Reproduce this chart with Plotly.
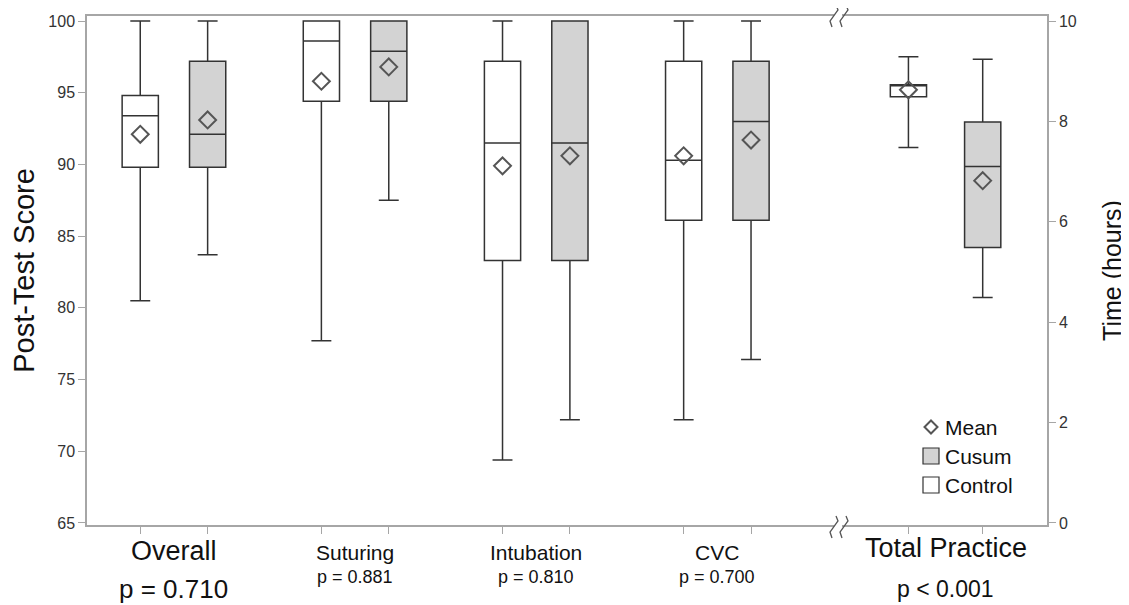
import plotly.graph_objects as go

# ---------------- data ----------------
groups = ["Overall", "Suturing", "Intubation", "CVC"]
group_p = ["p = 0.710", "p = 0.881", "p = 0.810", "p = 0.700"]

ctrl_low = [80.5, 77.7, 69.4, 72.2]
ctrl_q1 = [89.8, 94.4, 83.3, 86.1]
ctrl_med = [93.4, 98.6, 91.5, 90.3]
ctrl_q3 = [94.8, 100.0, 97.2, 97.2]
ctrl_high = [100.0, 100.0, 100.0, 100.0]
ctrl_mean = [92.1, 95.8, 89.9, 90.6]

cusum_low = [83.7, 87.5, 72.2, 76.4]
cusum_q1 = [89.8, 94.4, 83.3, 86.1]
cusum_med = [92.1, 97.9, 91.5, 93.0]
cusum_q3 = [97.2, 100.0, 100.0, 97.2]
cusum_high = [100.0, 100.0, 100.0, 100.0]
cusum_mean = [93.1, 96.8, 90.6, 91.7]

time_group = "Total Practice"
time_p = "p < 0.001"
# [low, q1, median, q3, high, mean]
time_ctrl = [7.48, 8.49, 8.73, 8.73, 9.29, 8.63]
time_cusum = [4.49, 5.49, 7.10, 7.99, 9.24, 6.82]

legend_labels = ["Mean", "Cusum", "Control"]

# ---------------- layout helpers ----------------
PAGE_OFF = 8                             # default body margin of the html page
W, H = 1129, 605
L, R, T, B = 87, 1047, 16, 525          # plot area in page pixels
group_x = [1, 2, 3, 4]
time_x = 5.26
off = 0.186
toff = 0.205
bw = 0.2
XR = [0.52, 5.82]

CUSUM_FILL = "#d3d3d3"
LINE = "#333333"
AX = "#a6a6a6"
MEAN_C = "#555555"
FONT = "Liberation Sans, Arial, sans-serif"

def px(xp):
    return (xp - L) / (R - L)

def py(yp):
    return (B - yp) / (B - T)

fig = go.Figure()

box_common = dict(boxpoints=False, width=bw, whiskerwidth=0.55,
                  line=dict(color=LINE, width=1.5), hoverinfo="skip",
                  showlegend=False)

fig.add_trace(go.Box(x=[g - off for g in group_x], q1=ctrl_q1, median=ctrl_med,
                     q3=ctrl_q3, lowerfence=ctrl_low, upperfence=ctrl_high,
                     fillcolor="white", name="Control", **box_common))
fig.add_trace(go.Box(x=[g + off for g in group_x], q1=cusum_q1, median=cusum_med,
                     q3=cusum_q3, lowerfence=cusum_low, upperfence=cusum_high,
                     fillcolor=CUSUM_FILL, name="Cusum", **box_common))
fig.add_trace(go.Box(x=[time_x - toff], q1=[time_ctrl[1]], median=[time_ctrl[2]],
                     q3=[time_ctrl[3]], lowerfence=[time_ctrl[0]],
                     upperfence=[time_ctrl[4]], fillcolor="white",
                     name="Control time", yaxis="y2", **box_common))
fig.add_trace(go.Box(x=[time_x + toff], q1=[time_cusum[1]], median=[time_cusum[2]],
                     q3=[time_cusum[3]], lowerfence=[time_cusum[0]],
                     upperfence=[time_cusum[4]], fillcolor=CUSUM_FILL,
                     name="Cusum time", yaxis="y2", **box_common))

mean_marker = dict(symbol="diamond-open", size=13, color=MEAN_C,
                   line=dict(width=2, color=MEAN_C))
fig.add_trace(go.Scatter(
    x=[g - off for g in group_x] + [g + off for g in group_x],
    y=ctrl_mean + cusum_mean, mode="markers", marker=mean_marker,
    showlegend=False, hoverinfo="skip"))
fig.add_trace(go.Scatter(
    x=[time_x - toff, time_x + toff], y=[time_ctrl[5], time_cusum[5]],
    mode="markers", marker=mean_marker, yaxis="y2",
    showlegend=False, hoverinfo="skip"))

tickvals = [g - off for g in group_x] + [g + off for g in group_x] + \
           [time_x - toff, time_x + toff]

fig.update_layout(
    width=W - PAGE_OFF, height=H - PAGE_OFF,
    margin=dict(l=L - PAGE_OFF, r=W - R, t=T - PAGE_OFF, b=H - B),
    paper_bgcolor="white", plot_bgcolor="white",
    font=dict(family=FONT, color="#222222"),
    xaxis=dict(range=XR, showgrid=False, zeroline=False, showline=True,
               linecolor=AX, linewidth=1.5, mirror=True, automargin=False,
               tickvals=tickvals, ticktext=[""] * len(tickvals),
               ticks="outside", ticklen=7, tickcolor=AX, tickwidth=1),
    yaxis=dict(range=[64.86, 100.35], tickvals=[65, 70, 75, 80, 85, 90, 95, 100],
               showgrid=False, zeroline=False, showline=True, linecolor=AX,
               linewidth=1.5, ticks="outside", ticklen=7, tickcolor=AX,
               automargin=False,
               tickfont=dict(size=16, color="#333333"),
               title=dict(text="Post-Test Score", font=dict(size=29, color="#111111"),
                          standoff=6)),
    yaxis2=dict(range=[-0.04, 10.1], tickvals=[0, 2, 4, 6, 8, 10],
                overlaying="y", side="right", showgrid=False, zeroline=False,
                showline=True, linecolor=AX, linewidth=1.5, ticks="outside",
                automargin=False,
                ticklen=7, tickcolor=AX, tickfont=dict(size=16, color="#333333"),
                title=dict(text="Time (hours)", font=dict(size=25, color="#111111"),
                           standoff=28)),
)

# ---------------- category labels ----------------
ann = []
for i, g in enumerate(groups):
    big = (i == 0)
    ann.append(dict(x=group_x[i], y=0, xref="x", yref="paper", text=g,
                    showarrow=False, yanchor="middle",
                    yshift=-(551 - B) if big else -(552 - B),
                    font=dict(size=27 if big else 21, color="#111111")))
    ann.append(dict(x=group_x[i], y=0, xref="x", yref="paper", text=group_p[i],
                    showarrow=False, yanchor="middle",
                    yshift=-(589 - B) if big else -(577 - B),
                    font=dict(size=26 if big else 18, color="#111111")))
ann.append(dict(x=time_x, y=0, xref="x", yref="paper", text=time_group,
                showarrow=False, yanchor="middle", yshift=-(548 - B),
                font=dict(size=27, color="#111111")))
ann.append(dict(x=time_x, y=0, xref="x", yref="paper", text=time_p,
                showarrow=False, yanchor="middle", yshift=-(589 - B),
                font=dict(size=23, color="#111111")))

# ---------------- legend (manual) ----------------
leg_x = 931
leg_y = [427, 456, 485]
shapes = []
d = 6.5
shapes.append(dict(type="path", xref="paper", yref="paper",
                   path=f"M {px(leg_x)},{py(leg_y[0]-d)} L {px(leg_x+d)},{py(leg_y[0])} "
                        f"L {px(leg_x)},{py(leg_y[0]+d)} L {px(leg_x-d)},{py(leg_y[0])} Z",
                   line=dict(color=MEAN_C, width=2), fillcolor="rgba(0,0,0,0)"))
s = 8
for yy, fc in [(leg_y[1], CUSUM_FILL), (leg_y[2], "white")]:
    shapes.append(dict(type="rect", xref="paper", yref="paper",
                       x0=px(leg_x - s), x1=px(leg_x + s), y0=py(yy + s), y1=py(yy - s),
                       line=dict(color=LINE, width=1.2), fillcolor=fc))
for lbl, yy in zip(legend_labels, leg_y):
    ann.append(dict(x=px(943), y=py(yy), xref="paper", yref="paper", text=lbl,
                    showarrow=False, xanchor="left", yanchor="middle",
                    font=dict(size=21, color="#111111")))

# ---------------- axis break marks ----------------
def zig(xc, yc):
    return (f"M {px(xc+3)},{py(yc-11)} L {px(xc+5)},{py(yc-6)} "
            f"L {px(xc-3)},{py(yc+5)} L {px(xc-1)},{py(yc+11)}")

for yc in (T, B + 2):
    shapes.append(dict(type="rect", xref="paper", yref="paper",
                       x0=px(834), x1=px(842), y0=py(yc + 2), y1=py(yc - 2),
                       line=dict(width=0), fillcolor="white"))
    for xc in (833, 843):
        shapes.append(dict(type="path", xref="paper", yref="paper", path=zig(xc, yc),
                           line=dict(color="#555555", width=1.3)))

fig.update_layout(annotations=ann, shapes=shapes)
fig.write_html("out.html")
